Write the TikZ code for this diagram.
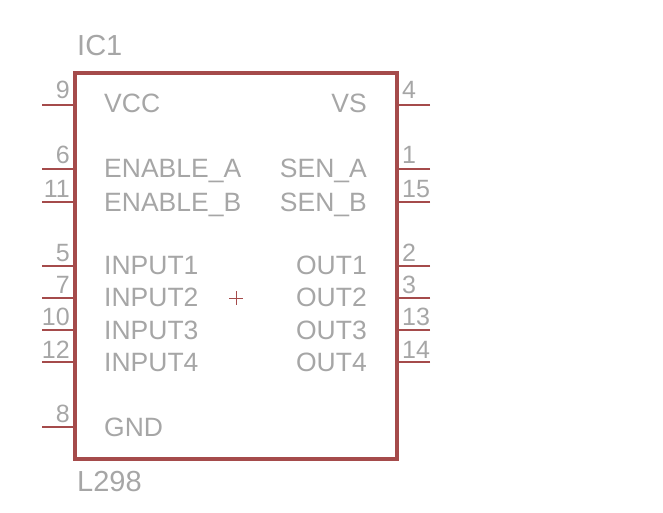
\documentclass[tikz,border=0pt]{standalone}
\usepackage{fontspec}
\setmainfont{Liberation Sans}
\definecolor{symbolred}{HTML}{A54B4B}
\definecolor{labelgrey}{HTML}{A6A6A6}
\tikzset{
    chipbox/.style = {draw = symbolred, line width = 3.7pt, inner sep = 0pt, minimum width = 322pt, minimum height = 386pt},
    pinline/.style = {draw = symbolred, line width = 1.9pt},
    signal/.style = {text = labelgrey, inner sep = 0pt, font = \fontsize{26.5}{26.5}\selectfont},
    pinnumber/.style = {text = labelgrey, inner sep = 0pt, font = \fontsize{25}{25}\selectfont},
    partname/.style = {text = labelgrey, inner sep = 0pt, font = \fontsize{29}{29}\selectfont, anchor = base west}
}
\begin{document}
\begin{tikzpicture}[x=1pt, y=-1pt]
    \useasboundingbox (0, 0) rectangle (663, 513);

    \node[chipbox] (ic) at (236, 266) {};
    \node[partname] (icname) at (77, 56) {IC1};
    \node[partname] (icvalue) at (77, 491) {L298};

    % origin cross
    \coordinate (crossw) at (229, 298);
    \coordinate (crosse) at (243, 298);
    \coordinate (crossn) at (236, 291);
    \coordinate (crosss) at (236, 305);
    \draw[color = symbolred, line width = 0.9pt] (crossw) -- (crosse);
    \draw[color = symbolred, line width = 0.9pt] (crossn) -- (crosss);

    % left pins
    \coordinate (pin9) at (42, 105);
    \coordinate (pin6) at (42, 169);
    \coordinate (pin11) at (42, 202);
    \coordinate (pin5) at (42, 266);
    \coordinate (pin7) at (42, 298);
    \coordinate (pin10) at (42, 330);
    \coordinate (pin12) at (42, 362);
    \coordinate (pin8) at (42, 427);

    \draw[pinline] (pin9) -- (pin9 -| ic.west);
    \draw[pinline] (pin6) -- (pin6 -| ic.west);
    \draw[pinline] (pin11) -- (pin11 -| ic.west);
    \draw[pinline] (pin5) -- (pin5 -| ic.west);
    \draw[pinline] (pin7) -- (pin7 -| ic.west);
    \draw[pinline] (pin10) -- (pin10 -| ic.west);
    \draw[pinline] (pin12) -- (pin12 -| ic.west);
    \draw[pinline] (pin8) -- (pin8 -| ic.west);

    % right pins
    \coordinate (pin4) at (430, 105);
    \coordinate (pin1) at (430, 169);
    \coordinate (pin15) at (430, 202);
    \coordinate (pin2) at (430, 266);
    \coordinate (pin3) at (430, 298);
    \coordinate (pin13) at (430, 330);
    \coordinate (pin14) at (430, 362);

    \draw[pinline] (pin4) -- (pin4 -| ic.east);
    \draw[pinline] (pin1) -- (pin1 -| ic.east);
    \draw[pinline] (pin15) -- (pin15 -| ic.east);
    \draw[pinline] (pin2) -- (pin2 -| ic.east);
    \draw[pinline] (pin3) -- (pin3 -| ic.east);
    \draw[pinline] (pin13) -- (pin13 -| ic.east);
    \draw[pinline] (pin14) -- (pin14 -| ic.east);

    % pin numbers
    \node[pinnumber, anchor = base east] (num9) at (70, 99) {9};
    \node[pinnumber, anchor = base east] (num6) at (70, 164) {6};
    \node[pinnumber, anchor = base east] (num11) at (70, 197) {11};
    \node[pinnumber, anchor = base east] (num5) at (70, 261) {5};
    \node[pinnumber, anchor = base east] (num7) at (70, 293) {7};
    \node[pinnumber, anchor = base east] (num10) at (70, 325) {10};
    \node[pinnumber, anchor = base east] (num12) at (70, 358) {12};
    \node[pinnumber, anchor = base east] (num8) at (70, 422) {8};

    \node[pinnumber, anchor = base west] (num4) at (402, 99) {4};
    \node[pinnumber, anchor = base west] (num1) at (402, 164) {1};
    \node[pinnumber, anchor = base west] (num15) at (402, 197) {15};
    \node[pinnumber, anchor = base west] (num2) at (402, 261) {2};
    \node[pinnumber, anchor = base west] (num3) at (402, 293) {3};
    \node[pinnumber, anchor = base west] (num13) at (402, 325) {13};
    \node[pinnumber, anchor = base west] (num14) at (402, 358) {14};

    % pin names
    \node[signal, anchor = base west] (vcc) at (104, 113) {VCC};
    \node[signal, anchor = base west] (enablea) at (104, 178) {ENABLE\_A};
    \node[signal, anchor = base west] (enableb) at (104, 211) {ENABLE\_B};
    \node[signal, anchor = base west] (input1) at (104, 274) {INPUT1};
    \node[signal, anchor = base west] (input2) at (104, 306) {INPUT2};
    \node[signal, anchor = base west] (input3) at (104, 339) {INPUT3};
    \node[signal, anchor = base west] (input4) at (104, 371) {INPUT4};
    \node[signal, anchor = base west] (gnd) at (104, 436) {GND};

    \node[signal, anchor = base east] (vs) at (367, 113) {VS};
    \node[signal, anchor = base east] (sena) at (367, 178) {SEN\_A};
    \node[signal, anchor = base east] (senb) at (367, 211) {SEN\_B};
    \node[signal, anchor = base east] (out1) at (367, 274) {OUT1};
    \node[signal, anchor = base east] (out2) at (367, 306) {OUT2};
    \node[signal, anchor = base east] (out3) at (367, 339) {OUT3};
    \node[signal, anchor = base east] (out4) at (367, 371) {OUT4};
\end{tikzpicture}
\end{document}
